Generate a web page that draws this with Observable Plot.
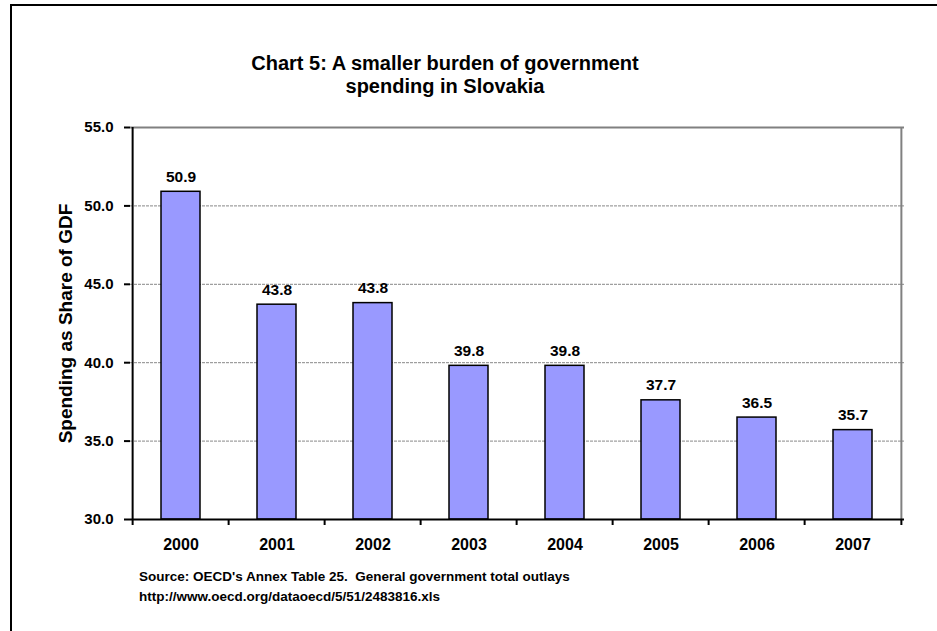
<!DOCTYPE html>
<html>
<head>
<meta charset="utf-8">
<script src="https://cdn.jsdelivr.net/npm/d3@7"></script>
<script src="https://cdn.jsdelivr.net/npm/@observablehq/plot@0.6"></script>
<style>
  html, body { margin: 0; padding: 0; background: #fff; }
  #wrap { position: relative; width: 937px; height: 631px; font-family: "Liberation Sans", Arial, sans-serif; overflow: hidden; }
  #frameTop { position: absolute; left: 10px; top: 4px; width: 930px; height: 2px; background: #000; }
  #frameLeft { position: absolute; left: 10px; top: 4px; width: 2px; height: 640px; background: #000; }
  #title { position: absolute; left: 195px; width: 500px; top: 52px; text-align: center; font-weight: bold; font-size: 20px; line-height: 23px; color: #000; }
  #source { position: absolute; left: 139px; top: 567px; font-weight: bold; font-size: 13.5px; line-height: 20px; color: #000; white-space: pre; }
  #chart { position: absolute; left: 0; top: 0; }
</style>
</head>
<body>
<div id="wrap">
  <div id="chart"></div>
  <div id="frameTop"></div>
  <div id="frameLeft"></div>
  <div id="title">Chart 5: A smaller burden of government<br>spending in Slovakia</div>
  <div id="source">Source: OECD's Annex Table 25.  General government total outlays
http://www.oecd.org/dataoecd/5/51/2483816.xls</div>
</div>
<script>
const years = ["2000", "2001", "2002", "2003", "2004", "2005", "2006", "2007"];
const spending = [50.9, 43.7, 43.8, 39.8, 39.8, 37.6, 36.5, 35.7];
const labels = ["50.9", "43.8", "43.8", "39.8", "39.8", "37.7", "36.5", "35.7"];
const yTicks = [30, 35, 40, 45, 50, 55];
const gridTicks = [35, 40, 45, 50];

const data = years.map((y, i) => ({year: y, value: spending[i], label: labels[i]}));

const W = 937, H = 631;
const mL = 130, mR = 33, mT = 127, mB = 112;
const step = (W - mL - mR) / years.length;
const font = '"Liberation Sans", Arial, sans-serif';

const chart = Plot.plot({
  width: W,
  height: H,
  marginLeft: mL,
  marginRight: mR,
  marginTop: mT,
  marginBottom: mB,
  style: {fontFamily: font, background: "transparent", overflow: "visible"},
  x: {domain: years, paddingInner: 0.59, paddingOuter: 0.295, label: null},
  y: {domain: [30, 55], label: null},
  marks: [
    Plot.ruleY(gridTicks, {stroke: "#888", strokeWidth: 1, strokeDasharray: "3,1"}),
    Plot.ruleY([55], {stroke: "#808080", strokeWidth: 2}),
    Plot.ruleX([years[years.length - 1]], {y1: 30, y2: 55, dx: step / 2, stroke: "#808080", strokeWidth: 2}),
    Plot.barY(data, {x: "year", y1: 30, y2: "value", fill: "#9999FF", stroke: "#000", strokeWidth: 1.5}),
    Plot.text(data, {x: "year", y: "value", text: "label", dy: -15, fontSize: 15.5, fontWeight: "bold", fill: "#000"}),
    Plot.axisY({ticks: yTicks, tickFormat: d3.format(".1f"), tickSize: 6, tickPadding: 11, fontSize: 15, fontWeight: "bold", stroke: "#000", strokeWidth: 2, fill: "#000", label: null}),
    Plot.axisX({tickSize: 0, tickPadding: 19, fontSize: 16, fontWeight: "bold", fill: "#000", label: null}),
    Plot.ruleX(years, {x: d => d, y1: 30, y2: 30, insetBottom: -6, dx: -step / 2, stroke: "#000", strokeWidth: 2}),
    Plot.ruleX([years[years.length - 1]], {y1: 30, y2: 30, insetBottom: -6, dx: step / 2, stroke: "#000", strokeWidth: 2}),
    Plot.ruleX([years[0]], {y1: 30, y2: 55, dx: -step / 2, stroke: "#000", strokeWidth: 2}),
    Plot.ruleY([30], {stroke: "#000", strokeWidth: 2}),
    Plot.text(["Spending as Share of GDF"], {frameAnchor: "left", textAnchor: "middle", dx: -65, rotate: -90, fontSize: 19, fontWeight: "bold", fill: "#000"})
  ]
});
document.getElementById("chart").appendChild(chart);
</script>
</body>
</html>
